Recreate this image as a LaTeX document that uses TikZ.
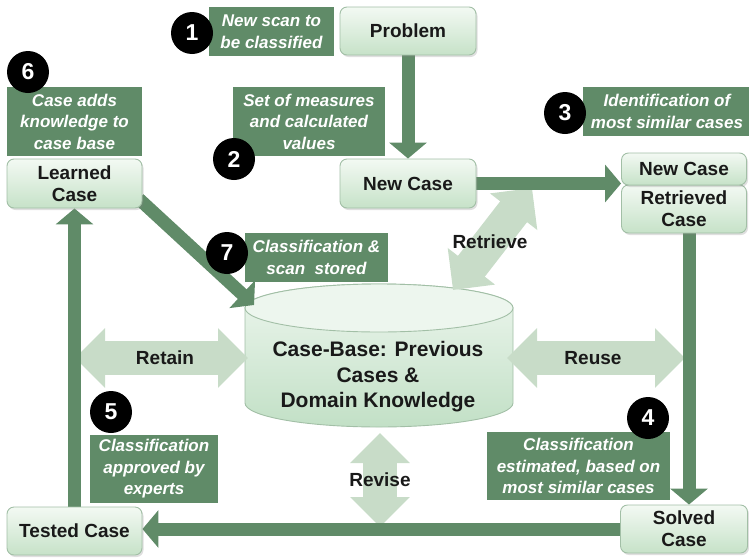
\documentclass[tikz,border=0pt]{standalone}
\usepackage{fontspec}
\setmainfont{Liberation Sans}
\usetikzlibrary{arrows.meta,shadows}
\definecolor{dkg}{HTML}{608B68}
\definecolor{ltg}{HTML}{C8DCC8}
\definecolor{boxtop}{HTML}{F3F9F3}
\definecolor{boxbot}{HTML}{C6E2C8}
\definecolor{boxline}{HTML}{A2BFA6}
\definecolor{cyltop}{HTML}{EDF6EE}
\definecolor{cylbot}{HTML}{C2E0C6}
\pgfdeclarelayer{bg}
\pgfsetlayers{bg,main}
\tikzset{
 casebox/.style={draw=boxline, line width=0.9pt, rounded corners=7pt, top color=boxtop, bottom color=boxbot,
   font=\fontsize{19}{22}\selectfont\bfseries, text=black!90, align=center, inner sep=0pt,
   drop shadow={opacity=0.25, shadow xshift=1.5pt, shadow yshift=-2pt}},
 note/.style={fill=dkg, text=white, font=\fontsize{17}{21.5}\selectfont\bfseries\itshape, align=center, inner sep=0pt},
 num/.style={circle, fill=black, text=white, font=\fontsize{23}{23}\selectfont\bfseries, minimum size=42pt, inner sep=0pt},
 darr/.style={draw=dkg, line width=13pt, -{Triangle[length=16pt,width=37pt]}},
 larr/.style={draw=ltg, line width=34pt, {Triangle[length=30pt,width=58pt]}-{Triangle[length=30pt,width=58pt]}},
 lbl/.style={font=\fontsize{19}{22}\selectfont\bfseries, text=black!90, align=center},
}
\begin{document}
\begin{tikzpicture}[x=1pt,y=-1pt]
\useasboundingbox (0,0) rectangle (749,557);
\clip (0,0) rectangle (749,557);

% case boxes
\node[casebox, minimum width=136pt, minimum height=48pt] (problem) at (408,31) {Problem};
\node[casebox, minimum width=136pt, minimum height=49pt] (newcase) at (408,183.5) {New Case};
\node[casebox, minimum width=135pt, minimum height=49pt] (learned) at (74.5,183.5) {Learned\\Case};
\node[casebox, minimum width=135pt, minimum height=48pt] (tested) at (74.5,531) {Tested Case};
\node[casebox, minimum width=127pt, minimum height=48pt] (solved) at (684,529) {Solved\\Case};
\node[casebox, minimum width=125pt, minimum height=48pt] (rret) at (684,209) {Retrieved\\Case};
\node[casebox, minimum width=125pt, minimum height=32pt] (rnew) at (684,169) {New Case};

% notes
\node[note, minimum width=125pt, minimum height=49pt] (l1) at (271.5,31.5) {New scan to\\be classified};
\node[note, minimum width=135pt, minimum height=69pt] (l6) at (74.5,121.5) {Case adds\\knowledge to\\case base};
\node[note, minimum width=152pt, minimum height=69pt] (l2) at (309,121.5) {Set of measures\\and calculated\\values};
\node[note, minimum width=168pt, minimum height=49pt] (l3) at (667,111.5) {Identification of\\most similar cases};
\node[note, minimum width=143pt, minimum height=49pt] (l7) at (316.5,257.5) {Classification \&\\scan\ \ stored};
\node[note, minimum width=183pt, minimum height=68pt] (l4) at (578.5,466) {Classification\\estimated, based on\\most similar cases};
\node[note, minimum width=128pt, minimum height=68pt] (l5) at (154,469) {Classification\\approved by\\experts};

% number badges
\node[num] (c1) at (192,33) {1};
\node[num] (c6) at (28,72) {6};
\node[num] (c2) at (234,159) {2};
\node[num] (c3) at (565,113) {3};
\node[num] (c7) at (227,253) {7};
\node[num] (c4) at (648,418) {4};
\node[num] (c5) at (111,412) {5};

% case base text and arrow labels
\node[lbl, font=\fontsize{21}{25.5}\selectfont\bfseries] (cb) at (378,377) {Case-Base: Previous\\Cases \&\\Domain Knowledge};
\node[lbl] (tretain) at (165,358) {Retain};
\node[lbl] (treuse) at (593,358) {Reuse};
\node[lbl] (trevise) at (380,480) {Revise};
\node[lbl] (tretrieve) at (490,242) {Retrieve};

% anchor coordinates
\coordinate (cbtl) at (254,305);
\coordinate (retA) at (75,358);
\coordinate (retB) at (248,358);
\coordinate (reuA) at (507,358);
\coordinate (reuB) at (685,358);
\coordinate (revA) at (380,433);
\coordinate (revB) at (380,527);
\coordinate (rtrA) at (453,290);
\coordinate (rtrB) at (532,188);
\coordinate (lstart) at (139,199);

\begin{pgfonlayer}{bg}
% cylinder
\shade[top color=cyltop, bottom color=cylbot, draw=boxline, line width=0.9pt]
  (245,308) -- (245,403) arc[start angle=180, end angle=360, x radius=134pt, y radius=24pt]
  -- (513,308) arc[start angle=0, end angle=180, x radius=134pt, y radius=24pt] -- cycle;
\draw[draw=boxline, fill=cyltop, line width=0.9pt] (379,308) ellipse [x radius=134pt, y radius=24pt];

% light double arrows
\draw[larr] (retA) -- (retB);
\draw[larr] (reuA) -- (reuB);
\draw[larr] (revA) -- (revB);
\draw[larr] (rtrA) -- (rtrB);

% dark arrows
\draw[darr] (problem.south) -- (newcase.north);
\draw[darr] (newcase.east) -- (newcase.east -| rnew.west);
\draw[darr] ([xshift=5pt]rret.south) -- ([xshift=5pt]solved.north);
\draw[darr] (solved.west) -- (solved.west -| tested.east);
\draw[darr] (tested.north) -- (learned.south);
\draw[darr] (lstart) -- (cbtl);
\end{pgfonlayer}
\end{tikzpicture}
\end{document}
